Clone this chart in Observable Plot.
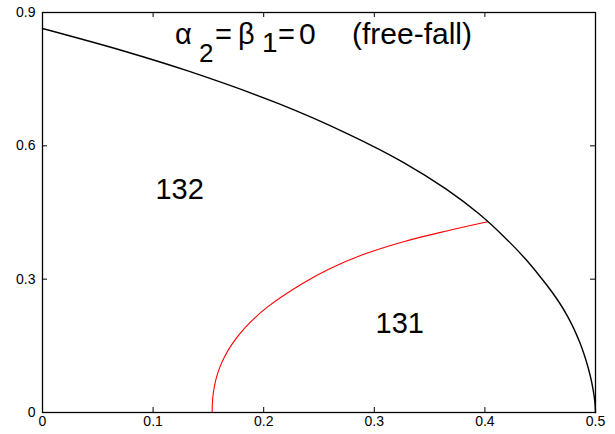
<!DOCTYPE html>
<html>
<head>
<meta charset="utf-8">
<script src="https://cdn.jsdelivr.net/npm/d3@7"></script>
<script src="https://cdn.jsdelivr.net/npm/@observablehq/plot@0.6"></script>
<style>
  body { margin: 0; background: #fff; }
  svg { display: block; }
</style>
</head>
<body>
<div id="chart"></div>
<script>
// Outer boundary of the admissible region (black curve)
const boundaryX = [0, 0.0726, 0.1321, 0.2135, 0.2769, 0.3262, 0.3647, 0.3946, 0.4179, 0.4361,
                   0.4502, 0.46, 0.4684, 0.475, 0.4804, 0.486, 0.4895, 0.4928, 0.4955, 0.4975,
                   0.4988, 0.4996, 0.5];
const boundaryY = [0.864, 0.814, 0.768, 0.695, 0.626, 0.563, 0.503, 0.447, 0.394, 0.347,
                   0.305, 0.2734, 0.243, 0.2152, 0.1887, 0.1562, 0.1322, 0.1058, 0.0798, 0.0561,
                   0.0361, 0.0187, 0];

// Separatrix between regions 131 and 132 (red curve)
const innerX = [0.1534, 0.1536, 0.1543, 0.1559, 0.1575, 0.1601, 0.1645, 0.1717, 0.1836, 0.2032,
                0.2355, 0.2588, 0.2887, 0.3272, 0.3656, 0.4025];
const innerY = [0, 0.0215, 0.0416, 0.0646, 0.0805, 0.1003, 0.125, 0.155, 0.192, 0.237,
                0.291, 0.3225, 0.3543, 0.3848, 0.4085, 0.429];

const xTicks = [0, 0.1, 0.2, 0.3, 0.4, 0.5];
const xTickLabels = ["0", "0.1", "0.2", "0.3", "0.4", "0.5"];
const yTicks = [0, 0.3, 0.6, 0.9];
const yTickLabels = ["0", "0.3", "0.6", "0.9"];

const regionNames = ["132", "131"];
const regionX = [0.124, 0.323];
const regionY = [0.502, 0.200];

const boundary = boundaryX.map((x, i) => ({x, y: boundaryY[i]}));
const inner = innerX.map((x, i) => ({x, y: innerY[i]}));
const regions = regionNames.map((name, i) => ({name, x: regionX[i], y: regionY[i]}));

const W = 615, H = 434;
const mL = 42, mR = 20, mT = 12, mB = 22;
const innerH = H - mT - mB, innerW = W - mL - mR;
const tickLen = 5;
const font = "'Liberation Sans', Arial, Helvetica, sans-serif";

const plot = Plot.plot({
  width: W,
  height: H,
  marginLeft: mL,
  marginRight: mR,
  marginTop: mT,
  marginBottom: mB,
  style: {fontFamily: font, background: "#fff", overflow: "visible"},
  x: {domain: [0, 0.5]},
  y: {domain: [0, 0.9]},
  marks: [
    Plot.axisX({ticks: xTicks, tickSize: 0, tickPadding: 4, fontSize: 14, fill: "#000", label: null,
                tickFormat: (d, i) => xTickLabels[i]}),
    Plot.axisY({ticks: yTicks, tickSize: 0, tickPadding: 7, fontSize: 14, fill: "#000", label: null,
                tickFormat: (d, i) => yTickLabels[i]}),
    // inward tick marks on all four sides
    Plot.tickX(xTicks.slice(1, -1), {x: d => d, insetTop: innerH - tickLen, stroke: "#000", strokeWidth: 1}),
    Plot.tickX(xTicks.slice(1, -1), {x: d => d, insetBottom: innerH - tickLen, stroke: "#000", strokeWidth: 1}),
    Plot.tickY(yTicks.slice(1, -1), {y: d => d, insetRight: innerW - tickLen, stroke: "#000", strokeWidth: 1}),
    Plot.tickY(yTicks.slice(1, -1), {y: d => d, insetLeft: innerW - tickLen, stroke: "#000", strokeWidth: 1}),
    Plot.line(inner, {x: "x", y: "y", stroke: "#ff0000", strokeWidth: 1.1, curve: "catmull-rom"}),
    Plot.line(boundary, {x: "x", y: "y", stroke: "#000", strokeWidth: 1.4, curve: "catmull-rom"}),
    Plot.text(regions, {x: "x", y: "y", text: "name", fontSize: 29, fill: "#000"}),
    Plot.frame({stroke: "#000", strokeWidth: 1.3})
  ]
});

// Heading inside the frame: α₂ = β₁ = 0 (free-fall), each piece placed on its own
const headingParts = [
  {text: "\u03B1", x: 175, y: 44, size: 29},
  {text: "2", x: 199, y: 62, size: 26},
  {text: "=", x: 215, y: 44, size: 29},
  {text: "\u03B2", x: 238, y: 44, size: 29},
  {text: "1", x: 262, y: 52, size: 28},
  {text: "=", x: 278, y: 44, size: 29},
  {text: "0", x: 299, y: 44, size: 30},
  {text: "(free-fall)", x: 352, y: 44, size: 30}
];
const heading = d3.select(plot).append("text")
  .attr("text-anchor", "start")
  .attr("font-family", font)
  .attr("fill", "#000");
heading.selectAll("tspan")
  .data(headingParts)
  .join("tspan")
  .attr("x", d => d.x)
  .attr("y", d => d.y)
  .attr("font-size", d => d.size)
  .text(d => d.text);

document.getElementById("chart").appendChild(plot);
</script>
</body>
</html>
